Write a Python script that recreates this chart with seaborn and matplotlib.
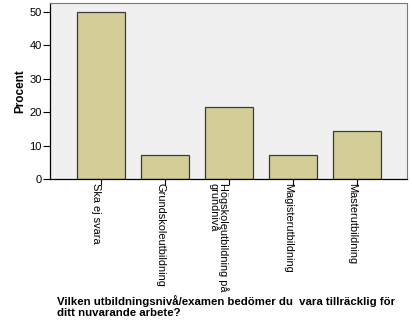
import matplotlib
matplotlib.use("Agg")
import matplotlib.pyplot as plt
import seaborn as sns
import pandas as pd

categories = ["Ska ej svara", "Grundskoleutbildning", "Högskoleutbildning på\ngrundnivå",
              "Magisterutbildning", "Masterutbildning"]
percent = [50.0, 7.14, 21.43, 7.14, 14.29]
y_ticks = [0, 10, 20, 30, 40, 50]

df = pd.DataFrame({"Kategori": categories, "Procent": percent})

sns.set_theme(style="white")
plt.rcParams["font.family"] = ["Liberation Sans", "DejaVu Sans"]
plt.rcParams["text.color"] = "black"
plt.rcParams["axes.labelcolor"] = "black"
plt.rcParams["xtick.color"] = "black"
plt.rcParams["ytick.color"] = "black"

fig = plt.figure(figsize=(4.12, 3.30), dpi=100)
ax = fig.add_axes([50 / 412, 1 - 179 / 330, 357 / 412, 176 / 330])
ax.set_facecolor("#F0F0F0")

sns.barplot(data=df, x="Kategori", y="Procent", ax=ax, color="#D3CE97",
            saturation=1, width=0.75, edgecolor="#3a3a3a", linewidth=0.9)

ax.set_xlim(-0.8, 4.78)
ax.set_ylim(0, 52.7)
ax.set_yticks(y_ticks)
ax.set_yticklabels([str(v) for v in y_ticks], fontsize=8, color="black")
ax.set_xticks(range(len(categories)))
ax.set_xticklabels(categories, fontsize=7.9, color="black", rotation=-90,
                   rotation_mode="anchor", ha="left", va="top", linespacing=0.85)

ax.tick_params(axis="y", which="both", direction="out", length=5, width=0.8,
               color="black", left=True, pad=1)
ax.tick_params(axis="x", which="both", direction="out", length=4.5, width=0.8,
               color="black", bottom=True, pad=-1.5)

for side in ["left", "bottom"]:
    ax.spines[side].set_color("black")
    ax.spines[side].set_linewidth(0.9)
for side in ["top", "right"]:
    ax.spines[side].set_visible(True)
    ax.spines[side].set_color("#7a7a7a")
    ax.spines[side].set_linewidth(0.8)

ax.set_xlabel("")
ax.set_ylabel("Procent", fontsize=8.5, fontweight="bold", color="black", labelpad=2)

fig.text(57 / 412, 1 - 295 / 330,
         "Vilken utbildningsnivå/examen bedömer du  vara tillräcklig för\nditt nuvarande arbete?",
         fontsize=8.2, fontweight="bold", color="black", ha="left", va="top",
         linespacing=1.12)

fig.savefig("out.png", dpi=100, facecolor="white")
